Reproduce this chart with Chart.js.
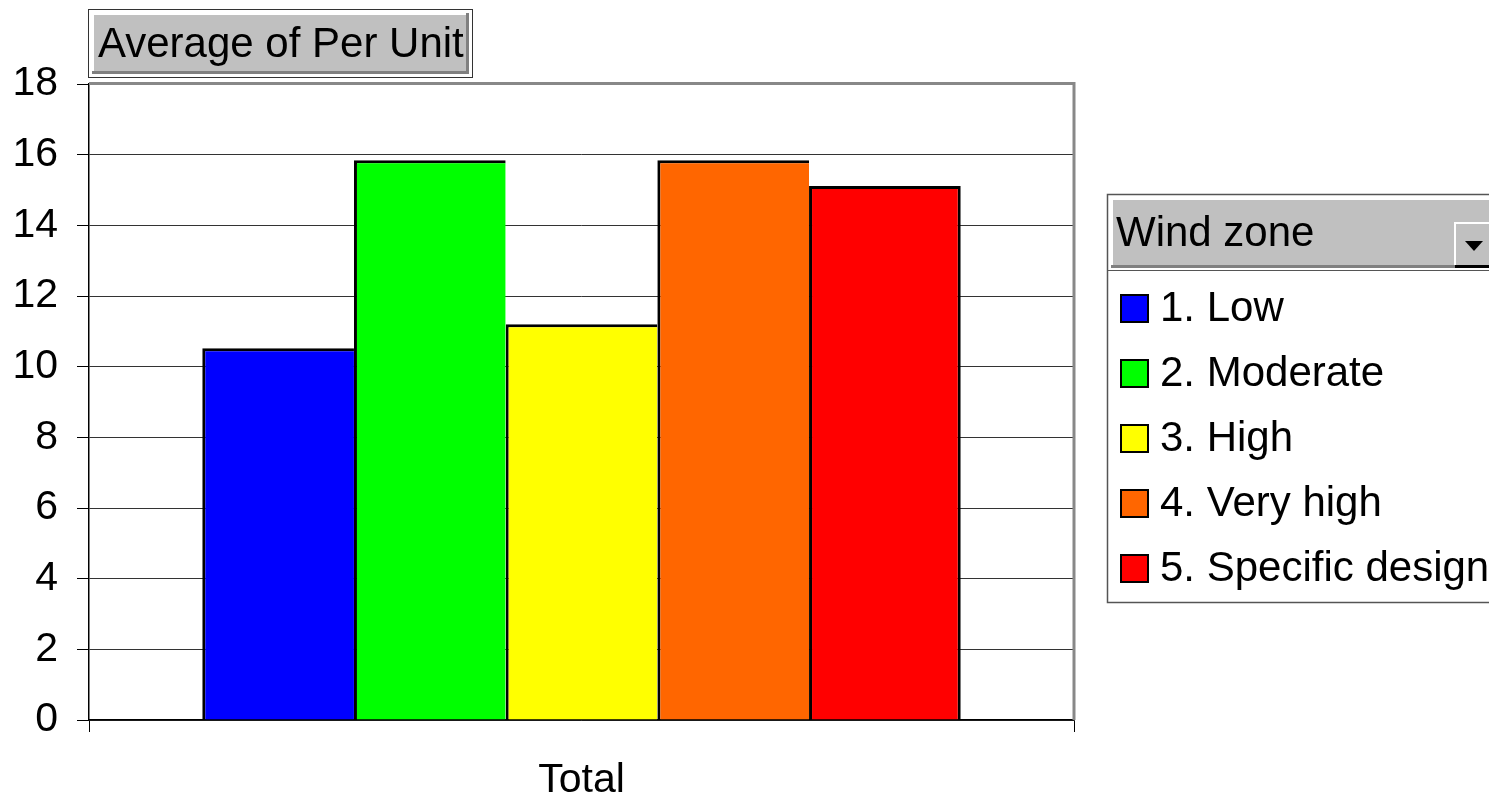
<!DOCTYPE html>
<html>
<head>
<meta charset="utf-8">
<script src="https://cdn.jsdelivr.net/npm/chart.js@4.4.1/dist/chart.umd.min.js"></script>
<style>
  html, body { margin: 0; padding: 0; background: #fff; overflow: hidden; }
  canvas { display: block; }
</style>
</head>
<body>
<canvas id="chart" width="1489" height="800"></canvas>
<script>
// Pivot chart: average per-unit value by wind zone
const categories = ['Total'];
const zoneNames = ['1. Low', '2. Moderate', '3. High', '4. Very high', '5. Specific design'];
const zoneValues = [10.52, 15.84, 11.2, 15.84, 15.11];
const zoneColors = ['#0000ff', '#00ff00', '#ffff00', '#ff6600', '#ff0000'];
const yTicks = [0, 2, 4, 6, 8, 10, 12, 14, 16, 18];
const fieldTitle = 'Average of Per Unit';
const legendTitle = 'Wind zone';

const FONT = '"Liberation Sans", Arial, sans-serif';

// adjacent bars share a single outline: each bar draws its left edge, the last one also its right
const datasets = zoneNames.map((name, i) => ({
  label: name,
  data: [zoneValues[i]],
  backgroundColor: zoneColors[i],
  borderColor: '#000',
  borderWidth: { top: 3, left: 3, right: i === zoneNames.length - 1 ? 3 : 0, bottom: 0 },
  borderSkipped: 'bottom',
  categoryPercentage: 0.77,
  barPercentage: 1.0
}));

// Plot frame (top/right), data-field button and field legend
const decorations = {
  id: 'decorations',
  afterDraw(chart) {
    const ctx = chart.ctx;
    const a = chart.chartArea;
    ctx.save();

    // grey frame on the top and right of the plot area
    ctx.strokeStyle = '#888';
    ctx.lineWidth = 3;
    ctx.beginPath();
    ctx.moveTo(a.left, a.top - 0.5);
    ctx.lineTo(a.right, a.top - 0.5);
    ctx.lineTo(a.right, a.bottom);
    ctx.stroke();

    // data field button
    ctx.strokeStyle = '#333';
    ctx.lineWidth = 1;
    ctx.strokeRect(88.5, 9.5, 384, 68);
    ctx.fillStyle = '#c0c0c0';
    ctx.fillRect(94, 15, 373, 56);
    ctx.fillStyle = '#808080';
    ctx.fillRect(466, 13, 3, 61);
    ctx.fillRect(92, 71, 377, 3);
    ctx.fillStyle = '#000';
    ctx.font = '42px ' + FONT;
    ctx.textBaseline = 'alphabetic';
    ctx.textAlign = 'left';
    ctx.fillText(fieldTitle, 98, 57);

    // legend box
    ctx.strokeStyle = '#555';
    ctx.lineWidth = 1.5;
    ctx.strokeRect(1107.5, 194.5, 420, 408);
    // header band
    ctx.fillStyle = '#c0c0c0';
    ctx.fillRect(1113, 200, 400, 65);
    ctx.fillStyle = '#808080';
    ctx.fillRect(1111, 265, 345, 3);
    ctx.strokeStyle = '#555';
    ctx.lineWidth = 1;
    ctx.beginPath();
    ctx.moveTo(1107, 270.5);
    ctx.lineTo(1489, 270.5);
    ctx.stroke();
    ctx.fillStyle = '#000';
    ctx.font = '42px ' + FONT;
    ctx.fillText(legendTitle, 1116, 246);

    // drop-down button
    ctx.fillStyle = '#c0c0c0';
    ctx.fillRect(1454, 222, 40, 43);
    ctx.fillStyle = '#fff';
    ctx.fillRect(1454, 222, 40, 2);
    ctx.fillRect(1454, 222, 2, 43);
    ctx.fillStyle = '#000';
    ctx.fillRect(1455, 265, 40, 3);
    ctx.beginPath();
    ctx.moveTo(1465, 241);
    ctx.lineTo(1483, 241);
    ctx.lineTo(1474, 251);
    ctx.closePath();
    ctx.fill();

    // legend entries
    chart.data.datasets.forEach((ds, i) => {
      const base = 321 + i * 65;
      ctx.fillStyle = ds.backgroundColor;
      ctx.fillRect(1120, base - 27, 29, 29);
      ctx.strokeStyle = '#000';
      ctx.lineWidth = 2;
      ctx.strokeRect(1121, base - 26, 27, 27);
      ctx.fillStyle = '#000';
      ctx.font = '42px ' + FONT;
      ctx.fillText(ds.label, 1160, base);
    });

    ctx.restore();
  }
};

new Chart(document.getElementById('chart'), {
  type: 'bar',
  data: { labels: categories, datasets },
  options: {
    responsive: false,
    devicePixelRatio: 1,
    animation: false,
    layout: { padding: { left: 0, top: 84, right: 415, bottom: 0 } },
    plugins: {
      legend: { display: false },
      title: { display: false },
      tooltip: { enabled: false }
    },
    scales: {
      x: {
        offset: true,
        afterFit(scale) { scale.height = 80; },
        grid: {
          offset: true,
          drawOnChartArea: false,
          drawTicks: true,
          tickLength: 12,
          tickColor: '#000'
        },
        border: { display: true, color: '#000', width: 1.5 },
        ticks: {
          color: '#000',
          font: { family: FONT, size: 41 },
          padding: 24
        }
      },
      y: {
        min: yTicks[0],
        max: yTicks[yTicks.length - 1],
        afterFit(scale) { scale.width = 89; },
        afterBuildTicks(scale) { scale.ticks = yTicks.map(v => ({ value: v })); },
        grid: {
          color: c => (c.tick && c.tick.value === yTicks[yTicks.length - 1]) ? 'rgba(0,0,0,0)' : '#333',
          lineWidth: 1,
          tickLength: 12,
          tickColor: '#000'
        },
        border: { display: true, color: '#000', width: 1.5 },
        ticks: {
          color: '#000',
          font: { family: FONT, size: 41 },
          padding: 19
        }
      }
    }
  },
  plugins: [decorations]
});
</script>
</body>
</html>
